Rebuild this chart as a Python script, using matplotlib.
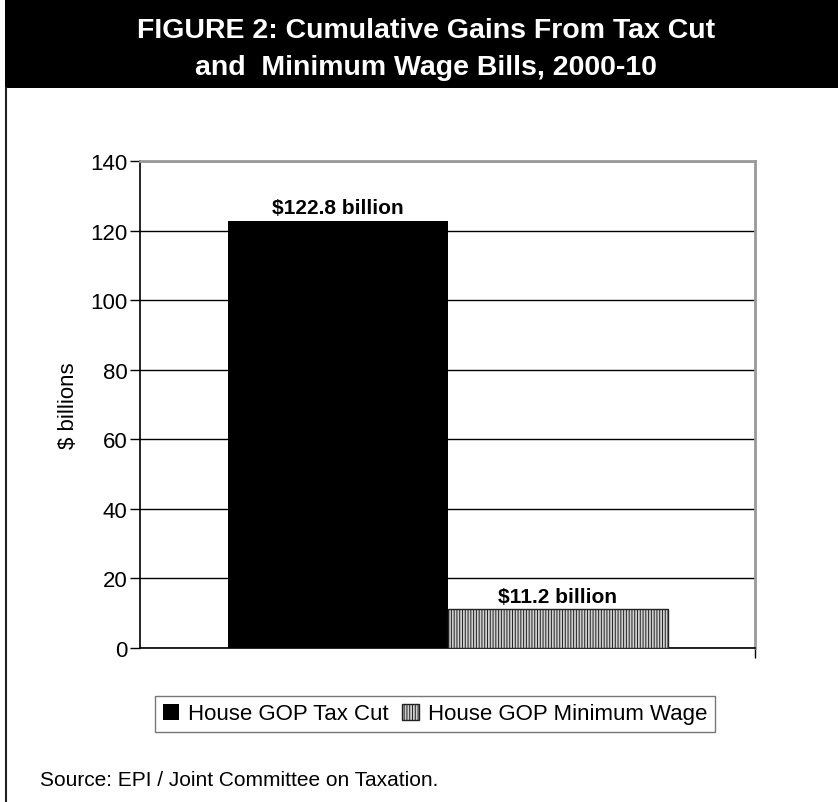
import matplotlib.pyplot as plt
from matplotlib.patches import Rectangle
from matplotlib.lines import Line2D

# data
series = ["House GOP Tax Cut", "House GOP Minimum Wage"]
values = [122.8, 11.2]
value_labels = ["$122.8 billion", "$11.2 billion"]
yticks = [0, 20, 40, 60, 80, 100, 120, 140]

plt.rcParams['font.family'] = ['Liberation Sans', 'DejaVu Sans']
plt.rcParams['hatch.linewidth'] = 0.7

W, H = 838, 803
fig = plt.figure(figsize=(W / 100, H / 100), dpi=100)

# title band and left frame line
fig.patches.append(Rectangle((5 / W, 1 - 89 / H), 1, 89 / H, transform=fig.transFigure,
                             facecolor='black', edgecolor='none'))
fig.lines.append(Line2D([5.5 / W, 5.5 / W], [0, 1 - 89 / H], transform=fig.transFigure,
                        color='#222222', lw=1.5))
fig.text(426 / W, 1 - 31 / H, "FIGURE 2: Cumulative Gains From Tax Cut", color='white',
         fontsize=20.5, fontweight='bold', ha='center', va='center')
fig.text(426 / W, 1 - 68 / H, "and  Minimum Wage Bills, 2000-10", color='white',
         fontsize=20.5, fontweight='bold', ha='center', va='center')

ax = fig.add_axes([140 / W, 1 - 649 / H, 615 / W, 487 / H])
width = 220 / 615
xs = [-width / 2, width / 2]
styles = [dict(color='black'),
          dict(facecolor='#d0d0d0', edgecolor='#222222', hatch='||||||', linewidth=1.0)]
for x, v, name, st in zip(xs, values, series, styles):
    ax.bar(x, v, width=width, label=name, zorder=3, **st)
for x, v, lab in zip(xs, values, value_labels):
    ax.text(x, v + 1.0, lab, ha='center', va='bottom', fontsize=15, fontweight='bold')

ax.set_xlim(-0.5, 0.5)
ax.set_ylim(0, 140)
ax.set_yticks(yticks)
ax.tick_params(axis='y', labelsize=16, length=7, width=1, direction='out', pad=2)
ax.set_xticks([0.5])
ax.tick_params(axis='x', labelbottom=False, length=7, width=1)
ax.grid(axis='y', color='black', lw=1, zorder=0)
for s in ['left', 'bottom']:
    ax.spines[s].set_color('black')
    ax.spines[s].set_linewidth(1.2)
for s in ['top', 'right']:
    ax.spines[s].set_color('#999999')
    ax.spines[s].set_linewidth(2)
ax.set_ylabel("$ billions", fontsize=16, labelpad=8)

leg = fig.legend(loc='center', bbox_to_anchor=(435 / W, 1 - 715 / H), ncol=2,
                 frameon=True, fancybox=False, fontsize=16, handlelength=0.75,
                 handleheight=0.75, handletextpad=0.4, columnspacing=0.6,
                 borderpad=0.35, borderaxespad=0, edgecolor='#555555')
leg.get_frame().set_linewidth(1.0)

fig.text(40 / W, 1 - 781 / H, "Source: EPI / Joint Committee on Taxation.", fontsize=15,
         ha='left', va='center')

fig.savefig('out.png', dpi=100, facecolor='white')
